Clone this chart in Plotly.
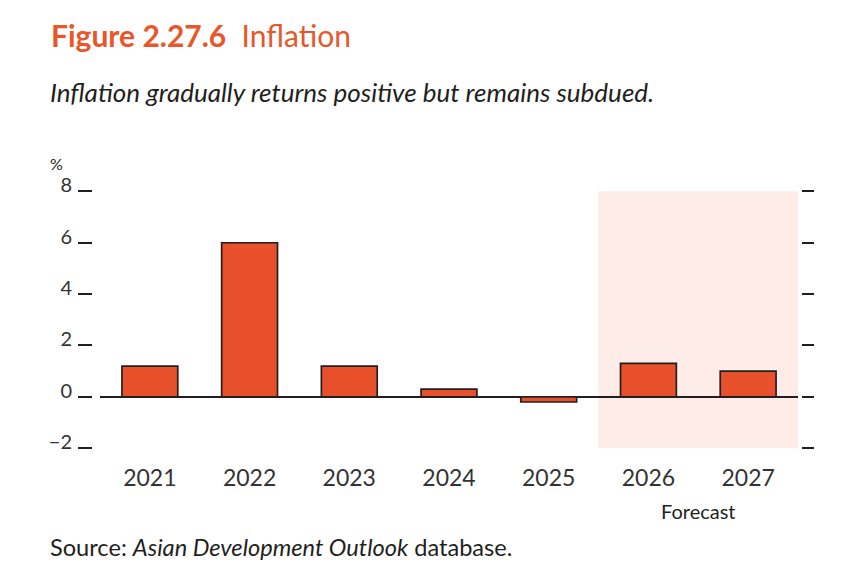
import plotly.graph_objects as go

# values
years = ["2021", "2022", "2023", "2024", "2025", "2026", "2027"]
inflation = [1.2, 6.0, 1.2, 0.3, -0.2, 1.3, 1.0]
y_ticks = [-2, 0, 2, 4, 6, 8]
y_tick_labels = ["\u22122", "0", "2", "4", "6", "8"]

ORANGE = "#E8502B"
INK = "#231F20"
SHADE = "#FDECE7"
FONT = "Lato"

W, H = 844, 566
# how figure pixels land in the screenshot (measured from a previous render)
X_OFF = 8
Y_OFF, Y_SCALE = 24.7, 0.963


def px_x(x):
    return (x - X_OFF) / W


def px_y(y):
    return 1 - (y - Y_OFF) / Y_SCALE / H


fig = go.Figure()

fig.add_trace(go.Bar(
    x=years,
    y=inflation,
    width=0.56,
    marker=dict(color=ORANGE, line=dict(color=INK, width=1.7)),
    hoverinfo="x+y",
    showlegend=False,
))

# dummy trace so the right-hand tick axis is drawn
fig.add_trace(go.Scatter(
    x=years, y=inflation, yaxis="y2", mode="markers",
    marker=dict(opacity=0), hoverinfo="skip", showlegend=False,
))

# forecast band
fig.add_shape(type="rect", xref="x", yref="y", x0=4.5, x1=6.5, y0=-2.12, y1=8.03,
              fillcolor=SHADE, line=dict(width=0), layer="below")

fig.update_layout(
    width=W, height=H,
    margin=dict(l=0, r=0, t=0, b=0),
    paper_bgcolor="white",
    plot_bgcolor="rgba(0,0,0,0)",
    font=dict(family=FONT, color=INK),
    xaxis=dict(
        domain=[px_x(100), px_x(798)],
        range=[-0.5, 6.5],
        showgrid=False, showline=False, zeroline=False,
        ticks="", ticklabelstandoff=14,
        tickfont=dict(size=23, color="#333333", family=FONT),
    ),
    yaxis=dict(
        domain=[px_y(448.3), px_y(190)],
        range=[-2, 8],
        anchor="free", position=px_x(92),
        tickvals=y_ticks, ticktext=y_tick_labels,
        ticks="outside", ticklen=14, tickwidth=2, tickcolor=INK,
        ticklabelstandoff=2, ticklabelshift=-6,
        tickfont=dict(size=20, color="#333333", family=FONT),
        showgrid=False, showline=False,
        zeroline=True, zerolinecolor=INK, zerolinewidth=1.5,
    ),
    yaxis2=dict(
        overlaying="y", side="right",
        anchor="free", position=px_x(801),
        range=[-2, 8],
        tickvals=y_ticks,
        ticks="outside", ticklen=12, tickwidth=2, tickcolor=INK,
        showticklabels=False, showgrid=False, showline=False, zeroline=False,
    ),
    annotations=[
        dict(text="<b>Figure 2.27.6</b>  Inflation", xref="paper", yref="paper",
             x=px_x(49), y=px_y(33), xanchor="left", yanchor="middle", showarrow=False,
             font=dict(size=30, color="#E8562A", family=FONT)),
        dict(text="<i>Inflation gradually returns positive but remains subdued.</i>",
             xref="paper", yref="paper", x=px_x(48), y=px_y(90),
             xanchor="left", yanchor="middle", showarrow=False,
             font=dict(size=26, color=INK, family=FONT)),
        dict(text="%", xref="paper", yref="paper", x=px_x(48), y=px_y(162),
             xanchor="left", yanchor="middle", showarrow=False,
             font=dict(size=16, color=INK, family=FONT)),
        dict(text="Forecast", xref="x", yref="paper", x=5.5, y=px_y(511),
             xanchor="center", yanchor="middle", showarrow=False,
             font=dict(size=20, color=INK, family=FONT)),
        dict(text="Source: <i>Asian Development Outlook</i> database.",
             xref="paper", yref="paper", x=px_x(48), y=px_y(548),
             xanchor="left", yanchor="middle", showarrow=False,
             font=dict(size=23.6, color=INK, family=FONT)),
    ],
)

fig.write_html("out.html")
